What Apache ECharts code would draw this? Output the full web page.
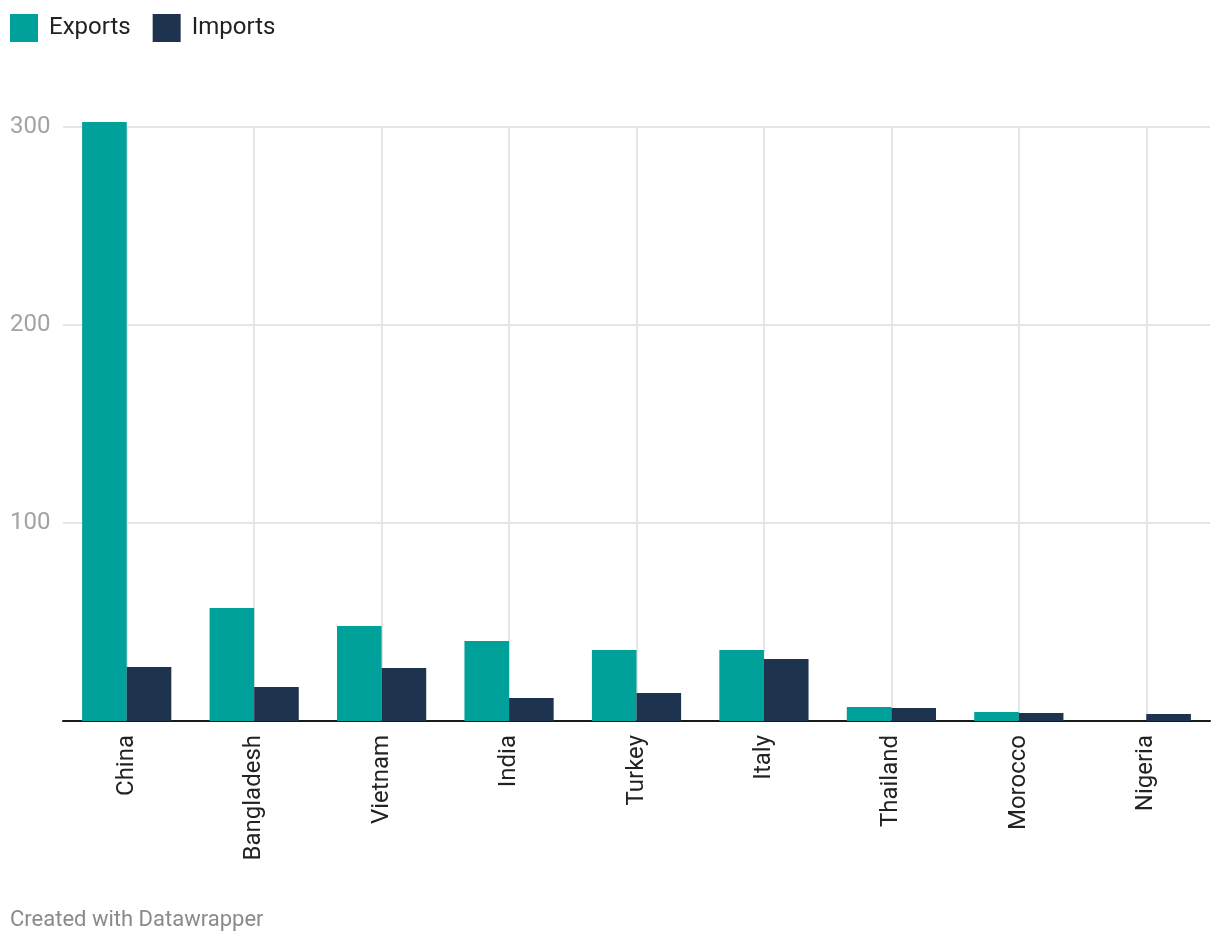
<!DOCTYPE html>
<html>
<head>
<meta charset="utf-8">
<script src="https://cdn.jsdelivr.net/npm/echarts@6/dist/echarts.min.js"></script>
<style>
html,body{margin:0;padding:0;background:#fff;}
#chart{width:1220px;height:944px;}
</style>
</head>
<body>
<div id="chart"></div>
<script>
const categories = ["China", "Bangladesh", "Vietnam", "India", "Turkey", "Italy", "Thailand", "Morocco", "Nigeria"];
const exportsData = [302.5, 57.1, 48.0, 40.4, 35.9, 35.9, 7.1, 4.5, 0];
const importsData = [27.3, 17.2, 26.8, 11.6, 14.1, 31.3, 6.6, 4.0, 3.5];
const seriesNames = ["Exports", "Imports"];
const footerText = "Created with Datawrapper";

const chart = echarts.init(document.getElementById('chart'), null, {renderer: 'canvas'});
chart.setOption({
  animation: false,
  textStyle: {fontFamily: 'Roboto'},
  color: ['#00a19a', '#1e334d'],
  legend: {
    left: 10, top: 14, padding: 0,
    itemWidth: 28, itemHeight: 28, itemGap: 22,
    icon: 'rect',
    textStyle: {fontSize: 24, color: '#222', fontFamily: 'Roboto', padding: [0, 0, 0, 6]},
    data: seriesNames
  },
  grid: {left: 63, right: 10, top: 127, bottom: 223, containLabel: false},
  xAxis: {
    type: 'category',
    data: categories,
    axisLine: {lineStyle: {color: '#1a1a1a', width: 2}},
    axisTick: {show: false},
    axisLabel: {rotate: 90, fontSize: 24, color: '#222', margin: 14, fontFamily: 'Roboto'},
    splitLine: {show: true, alignWithLabel: true, lineStyle: {color: '#e5e5e5', width: 2}}
  },
  yAxis: {
    type: 'value',
    min: 0, max: 300, interval: 100,
    axisLine: {show: false},
    axisTick: {show: false},
    axisLabel: {
      fontSize: 24, color: '#a3a3a3', align: 'left', margin: 53, fontFamily: 'Roboto',
      formatter: v => v === 0 ? '' : String(v)
    },
    splitLine: {lineStyle: {color: '#e5e5e5', width: 2}}
  },
  series: [
    {name: seriesNames[0], type: 'bar', data: exportsData, barWidth: '35%', barGap: 0, clip: false, z: 3},
    {name: seriesNames[1], type: 'bar', data: importsData, barWidth: '35%', barGap: 0, clip: false, z: 3}
  ],
  graphic: [{
    type: 'text', left: 10, top: 909,
    style: {text: footerText, fontSize: 22, fill: '#8a8a8a', fontFamily: 'Roboto'}
  }]
});
</script>
</body>
</html>
